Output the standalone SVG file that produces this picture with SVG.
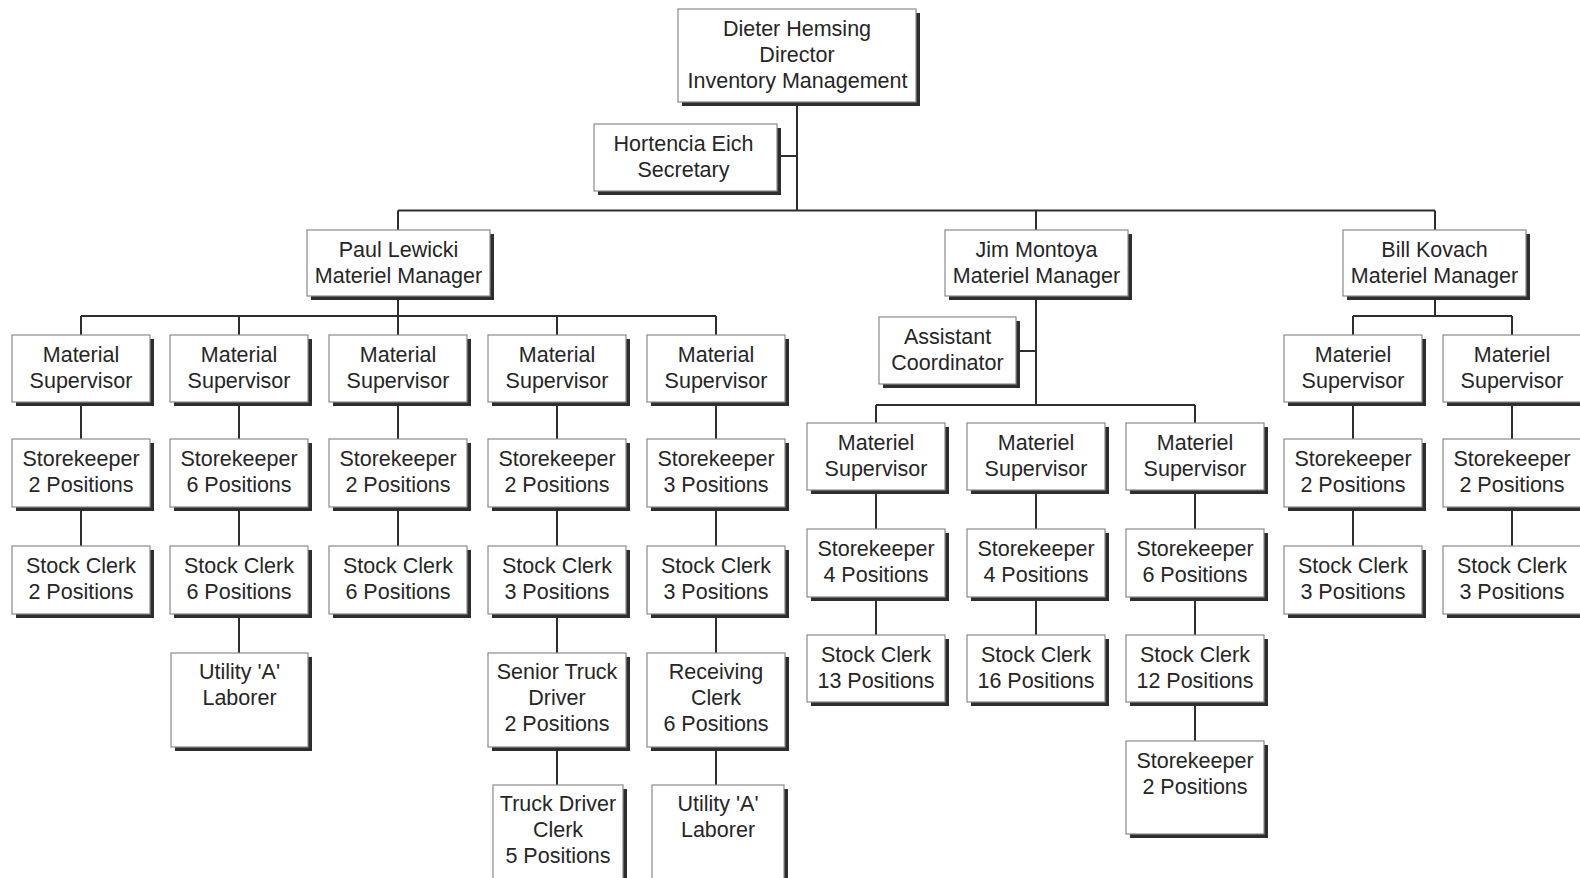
<svg xmlns="http://www.w3.org/2000/svg" width="1580" height="878" viewBox="0 0 1580 878">
<style>
.sh{fill:#2e2e2e}
.bx{fill:#ffffff;stroke:#8a8a8a;stroke-width:1.2}
.t{font-family:"Liberation Sans",Arial,sans-serif;font-size:21.5px;fill:#262626;text-anchor:middle}
.c{stroke:#2e2e2e;stroke-width:2;fill:none}
</style>
<rect width="1580" height="878" fill="#ffffff"/>
<g id="connectors" class="c">
<path d="M797 102V210.5M777 156H797M398 210.5H1435M398 210.5V230M1036 210.5V230M1435 210.5V230"/>
<path d="M398 296V316M81 316H716M81 316V335M239 316V335M398 316V335M557 316V335M716 316V335"/>
<path d="M81 402V439M239 402V439M398 402V439M557 402V439M716 402V439"/>
<path d="M81 507V546M239 507V546M398 507V546M557 507V546M716 507V546"/>
<path d="M239 614V653M557 614V653M716 614V653M557 747V785M716 747V785"/>
<path d="M1036 296V405M1016 351H1036M876 405H1195M876 405V423M1195 405V423"/>
<path d="M876 490V529M1036 490V529M1195 490V529M876 597V635M1036 597V635M1195 597V635M1195 702V741"/>
<path d="M1435 296V316M1353 316H1512M1353 316V335M1512 316V335M1353 402V439M1512 402V439M1353 507V546M1512 507V546"/>
</g>
<g id="director"><rect class="sh" x="682" y="13" width="238" height="93"/><rect class="bx" x="678" y="9" width="238" height="93"/><text class="t"><tspan x="797" y="35.5">Dieter Hemsing</tspan><tspan x="797" y="61.5">Director</tspan><tspan x="797.5" y="87.5" textLength="220" lengthAdjust="spacing">Inventory Management</tspan></text></g>
<g id="secretary"><rect class="sh" x="598" y="128" width="183" height="67"/><rect class="bx" x="594" y="124" width="183" height="67"/><text class="t"><tspan x="683.5" y="150.5">Hortencia Eich</tspan><tspan x="683.5" y="176.5">Secretary</tspan></text></g>
<g id="paul"><rect class="sh" x="311" y="234" width="183" height="66"/><rect class="bx" x="307" y="230" width="183" height="66"/><text class="t"><tspan x="398.5" y="256.5">Paul Lewicki</tspan><tspan x="398.5" y="282.5">Materiel Manager</tspan></text></g>
<g id="jim"><rect class="sh" x="949" y="234" width="183" height="66"/><rect class="bx" x="945" y="230" width="183" height="66"/><text class="t"><tspan x="1036.5" y="256.5">Jim Montoya</tspan><tspan x="1036.5" y="282.5">Materiel Manager</tspan></text></g>
<g id="bill"><rect class="sh" x="1347" y="234" width="183" height="66"/><rect class="bx" x="1343" y="230" width="183" height="66"/><text class="t"><tspan x="1434.5" y="256.5">Bill Kovach</tspan><tspan x="1434.5" y="282.5">Materiel Manager</tspan></text></g>

<g id="p-sup1"><rect class="sh" x="16" y="339" width="138" height="67"/><rect class="bx" x="12" y="335" width="138" height="67"/><text class="t"><tspan x="81" y="361.5">Material</tspan><tspan x="81" y="387.5">Supervisor</tspan></text></g>
<g id="p-sup2"><rect class="sh" x="174" y="339" width="138" height="67"/><rect class="bx" x="170" y="335" width="138" height="67"/><text class="t"><tspan x="239" y="361.5">Material</tspan><tspan x="239" y="387.5">Supervisor</tspan></text></g>
<g id="p-sup3"><rect class="sh" x="333" y="339" width="138" height="67"/><rect class="bx" x="329" y="335" width="138" height="67"/><text class="t"><tspan x="398" y="361.5">Material</tspan><tspan x="398" y="387.5">Supervisor</tspan></text></g>
<g id="p-sup4"><rect class="sh" x="492" y="339" width="138" height="67"/><rect class="bx" x="488" y="335" width="138" height="67"/><text class="t"><tspan x="557" y="361.5">Material</tspan><tspan x="557" y="387.5">Supervisor</tspan></text></g>
<g id="p-sup5"><rect class="sh" x="651" y="339" width="138" height="67"/><rect class="bx" x="647" y="335" width="138" height="67"/><text class="t"><tspan x="716" y="361.5">Material</tspan><tspan x="716" y="387.5">Supervisor</tspan></text></g>

<g id="p-sk1"><rect class="sh" x="16" y="443" width="138" height="68"/><rect class="bx" x="12" y="439" width="138" height="68"/><text class="t"><tspan x="81" y="465.5">Storekeeper</tspan><tspan x="81" y="491.5">2 Positions</tspan></text></g>
<g id="p-sk2"><rect class="sh" x="174" y="443" width="138" height="68"/><rect class="bx" x="170" y="439" width="138" height="68"/><text class="t"><tspan x="239" y="465.5">Storekeeper</tspan><tspan x="239" y="491.5">6 Positions</tspan></text></g>
<g id="p-sk3"><rect class="sh" x="333" y="443" width="138" height="68"/><rect class="bx" x="329" y="439" width="138" height="68"/><text class="t"><tspan x="398" y="465.5">Storekeeper</tspan><tspan x="398" y="491.5">2 Positions</tspan></text></g>
<g id="p-sk4"><rect class="sh" x="492" y="443" width="138" height="68"/><rect class="bx" x="488" y="439" width="138" height="68"/><text class="t"><tspan x="557" y="465.5">Storekeeper</tspan><tspan x="557" y="491.5">2 Positions</tspan></text></g>
<g id="p-sk5"><rect class="sh" x="651" y="443" width="138" height="68"/><rect class="bx" x="647" y="439" width="138" height="68"/><text class="t"><tspan x="716" y="465.5">Storekeeper</tspan><tspan x="716" y="491.5">3 Positions</tspan></text></g>

<g id="p-sc1"><rect class="sh" x="16" y="550" width="138" height="68"/><rect class="bx" x="12" y="546" width="138" height="68"/><text class="t"><tspan x="81" y="572.5">Stock Clerk</tspan><tspan x="81" y="598.5">2 Positions</tspan></text></g>
<g id="p-sc2"><rect class="sh" x="174" y="550" width="138" height="68"/><rect class="bx" x="170" y="546" width="138" height="68"/><text class="t"><tspan x="239" y="572.5">Stock Clerk</tspan><tspan x="239" y="598.5">6 Positions</tspan></text></g>
<g id="p-sc3"><rect class="sh" x="333" y="550" width="138" height="68"/><rect class="bx" x="329" y="546" width="138" height="68"/><text class="t"><tspan x="398" y="572.5">Stock Clerk</tspan><tspan x="398" y="598.5">6 Positions</tspan></text></g>
<g id="p-sc4"><rect class="sh" x="492" y="550" width="138" height="68"/><rect class="bx" x="488" y="546" width="138" height="68"/><text class="t"><tspan x="557" y="572.5">Stock Clerk</tspan><tspan x="557" y="598.5">3 Positions</tspan></text></g>
<g id="p-sc5"><rect class="sh" x="651" y="550" width="138" height="68"/><rect class="bx" x="647" y="546" width="138" height="68"/><text class="t"><tspan x="716" y="572.5">Stock Clerk</tspan><tspan x="716" y="598.5">3 Positions</tspan></text></g>

<g id="p-util1"><rect class="sh" x="175" y="657" width="137" height="94"/><rect class="bx" x="171" y="653" width="137" height="94"/><text class="t"><tspan x="239.5" y="678.5">Utility 'A'</tspan><tspan x="239.5" y="704.5">Laborer</tspan></text></g>
<g id="p-senior"><rect class="sh" x="492" y="657" width="138" height="94"/><rect class="bx" x="488" y="653" width="138" height="94"/><text class="t"><tspan x="557" y="678.5">Senior Truck</tspan><tspan x="557" y="704.5">Driver</tspan><tspan x="557" y="730.5">2 Positions</tspan></text></g>
<g id="p-receiving"><rect class="sh" x="651" y="657" width="138" height="94"/><rect class="bx" x="647" y="653" width="138" height="94"/><text class="t"><tspan x="716" y="678.5">Receiving</tspan><tspan x="716" y="704.5">Clerk</tspan><tspan x="716" y="730.5">6 Positions</tspan></text></g>
<g id="p-truck"><rect class="sh" x="497" y="789" width="130" height="100"/><rect class="bx" x="493" y="785" width="130" height="100"/><text class="t"><tspan x="558" y="810.5">Truck Driver</tspan><tspan x="558" y="836.5">Clerk</tspan><tspan x="558" y="862.5">5 Positions</tspan></text></g>
<g id="p-util2"><rect class="sh" x="656" y="789" width="132" height="100"/><rect class="bx" x="652" y="785" width="132" height="100"/><text class="t"><tspan x="718" y="810.5">Utility 'A'</tspan><tspan x="718" y="836.5">Laborer</tspan></text></g>

<g id="j-assistant"><rect class="sh" x="883" y="321" width="137" height="67"/><rect class="bx" x="879" y="317" width="137" height="67"/><text class="t"><tspan x="947.5" y="343.5">Assistant</tspan><tspan x="947.5" y="369.5">Coordinator</tspan></text></g>
<g id="j-sup1"><rect class="sh" x="811" y="427" width="138" height="67"/><rect class="bx" x="807" y="423" width="138" height="67"/><text class="t"><tspan x="876" y="449.5">Materiel</tspan><tspan x="876" y="475.5">Supervisor</tspan></text></g>
<g id="j-sup2"><rect class="sh" x="971" y="427" width="138" height="67"/><rect class="bx" x="967" y="423" width="138" height="67"/><text class="t"><tspan x="1036" y="449.5">Materiel</tspan><tspan x="1036" y="475.5">Supervisor</tspan></text></g>
<g id="j-sup3"><rect class="sh" x="1130" y="427" width="138" height="67"/><rect class="bx" x="1126" y="423" width="138" height="67"/><text class="t"><tspan x="1195" y="449.5">Materiel</tspan><tspan x="1195" y="475.5">Supervisor</tspan></text></g>
<g id="j-sk1"><rect class="sh" x="811" y="533" width="138" height="68"/><rect class="bx" x="807" y="529" width="138" height="68"/><text class="t"><tspan x="876" y="555.5">Storekeeper</tspan><tspan x="876" y="581.5">4 Positions</tspan></text></g>
<g id="j-sk2"><rect class="sh" x="971" y="533" width="138" height="68"/><rect class="bx" x="967" y="529" width="138" height="68"/><text class="t"><tspan x="1036" y="555.5">Storekeeper</tspan><tspan x="1036" y="581.5">4 Positions</tspan></text></g>
<g id="j-sk3"><rect class="sh" x="1130" y="533" width="138" height="68"/><rect class="bx" x="1126" y="529" width="138" height="68"/><text class="t"><tspan x="1195" y="555.5">Storekeeper</tspan><tspan x="1195" y="581.5">6 Positions</tspan></text></g>
<g id="j-sc1"><rect class="sh" x="811" y="639" width="138" height="67"/><rect class="bx" x="807" y="635" width="138" height="67"/><text class="t"><tspan x="876" y="661.5">Stock Clerk</tspan><tspan x="876" y="687.5">13 Positions</tspan></text></g>
<g id="j-sc2"><rect class="sh" x="971" y="639" width="138" height="67"/><rect class="bx" x="967" y="635" width="138" height="67"/><text class="t"><tspan x="1036" y="661.5">Stock Clerk</tspan><tspan x="1036" y="687.5">16 Positions</tspan></text></g>
<g id="j-sc3"><rect class="sh" x="1130" y="639" width="138" height="67"/><rect class="bx" x="1126" y="635" width="138" height="67"/><text class="t"><tspan x="1195" y="661.5">Stock Clerk</tspan><tspan x="1195" y="687.5">12 Positions</tspan></text></g>
<g id="j-sk4"><rect class="sh" x="1130" y="745" width="138" height="93"/><rect class="bx" x="1126" y="741" width="138" height="93"/><text class="t"><tspan x="1195" y="767.5">Storekeeper</tspan><tspan x="1195" y="793.5">2 Positions</tspan></text></g>

<g id="b-sup1"><rect class="sh" x="1288" y="339" width="138" height="67"/><rect class="bx" x="1284" y="335" width="138" height="67"/><text class="t"><tspan x="1353" y="361.5">Materiel</tspan><tspan x="1353" y="387.5">Supervisor</tspan></text></g>
<g id="b-sup2"><rect class="sh" x="1447" y="339" width="138" height="67"/><rect class="bx" x="1443" y="335" width="138" height="67"/><text class="t"><tspan x="1512" y="361.5">Materiel</tspan><tspan x="1512" y="387.5">Supervisor</tspan></text></g>
<g id="b-sk1"><rect class="sh" x="1288" y="443" width="138" height="68"/><rect class="bx" x="1284" y="439" width="138" height="68"/><text class="t"><tspan x="1353" y="465.5">Storekeeper</tspan><tspan x="1353" y="491.5">2 Positions</tspan></text></g>
<g id="b-sk2"><rect class="sh" x="1447" y="443" width="138" height="68"/><rect class="bx" x="1443" y="439" width="138" height="68"/><text class="t"><tspan x="1512" y="465.5">Storekeeper</tspan><tspan x="1512" y="491.5">2 Positions</tspan></text></g>
<g id="b-sc1"><rect class="sh" x="1288" y="550" width="138" height="68"/><rect class="bx" x="1284" y="546" width="138" height="68"/><text class="t"><tspan x="1353" y="572.5">Stock Clerk</tspan><tspan x="1353" y="598.5">3 Positions</tspan></text></g>
<g id="b-sc2"><rect class="sh" x="1447" y="550" width="138" height="68"/><rect class="bx" x="1443" y="546" width="138" height="68"/><text class="t"><tspan x="1512" y="572.5">Stock Clerk</tspan><tspan x="1512" y="598.5">3 Positions</tspan></text></g>
</svg>
